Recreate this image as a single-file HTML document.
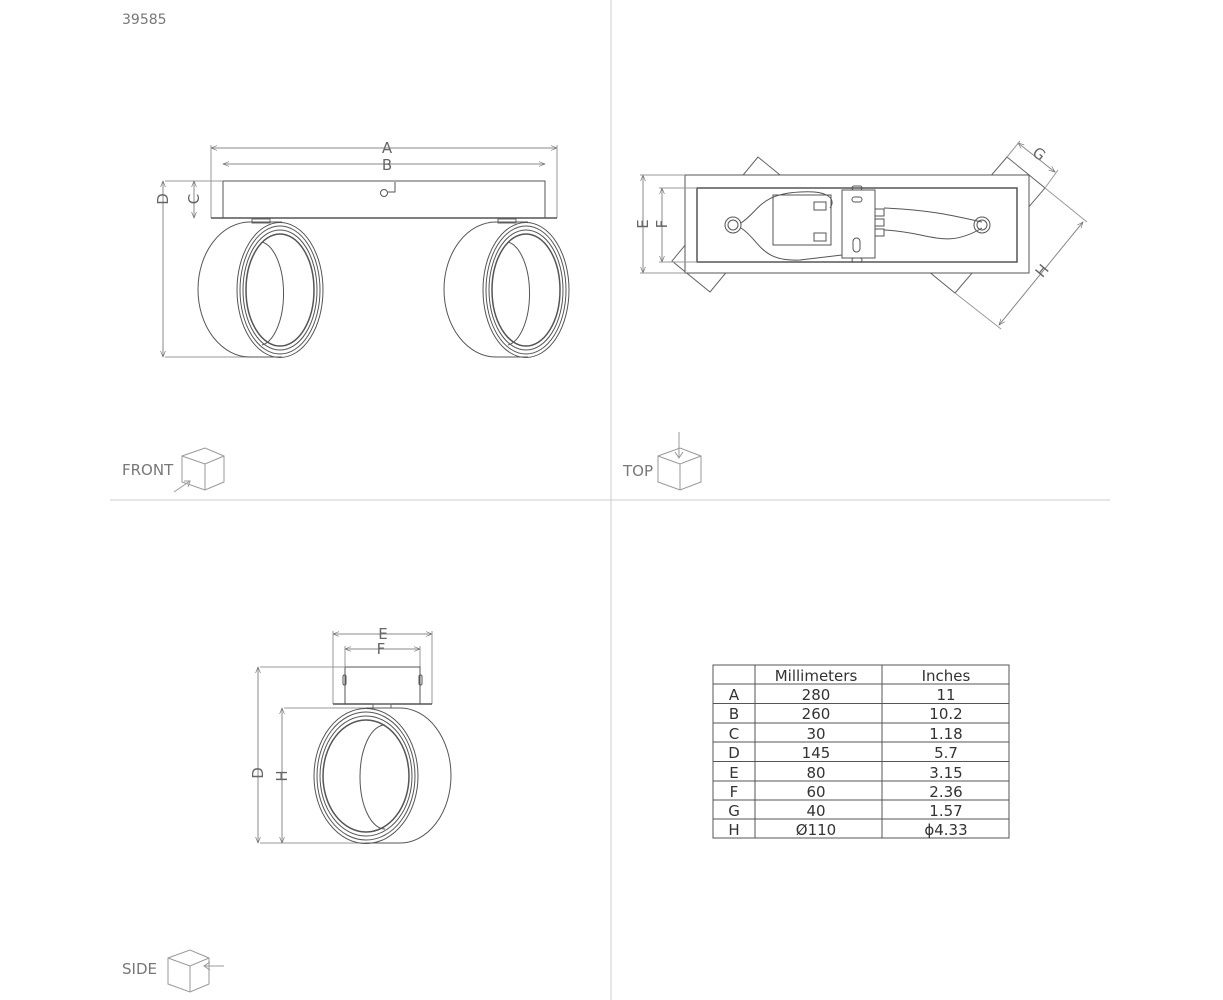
<!DOCTYPE html>
<html><head><meta charset="utf-8"><style>
html,body{margin:0;padding:0;background:#fff;}
svg{display:block;}
text{font-family:"DejaVu Sans","Liberation Sans",sans-serif;fill:#333;}
</style></head><body>
<svg width="1223" height="1000" viewBox="0 0 1223 1000" xmlns="http://www.w3.org/2000/svg">
<defs>
<marker id="ar" viewBox="0 0 10 10" refX="10" refY="5" markerWidth="8" markerHeight="6" orient="auto-start-reverse"><path d="M0,1 L10,5 L0,9" fill="none" stroke="#666" stroke-width="1"/></marker>
</defs>
<line x1="611" y1="0" x2="611" y2="1000" stroke="#ccc" stroke-width="1"/>
<line x1="110" y1="500" x2="1110" y2="500" stroke="#ccc" stroke-width="1"/>
<text x="122" y="24" font-size="14" style="fill:#777">39585</text>

<g fill="none" stroke="#555" stroke-width="1">
<line x1="211" y1="148" x2="557" y2="148" stroke="#888" marker-start="url(#ar)" marker-end="url(#ar)"/>
<line x1="223" y1="164" x2="545" y2="164" stroke="#888" marker-start="url(#ar)" marker-end="url(#ar)"/>
<line x1="211" y1="145" x2="211" y2="218" stroke="#999"/>
<line x1="557" y1="145" x2="557" y2="218" stroke="#999"/>
<rect x="223" y="181" width="322" height="37" stroke="#555"/>
<line x1="211" y1="218" x2="557" y2="218" stroke-width="1.5"/>
<line x1="165" y1="181" x2="223" y2="181" stroke="#999"/>
<line x1="165" y1="357" x2="280" y2="357" stroke="#999"/>
<line x1="163" y1="181" x2="163" y2="357" stroke="#888" marker-start="url(#ar)" marker-end="url(#ar)"/>
<line x1="194" y1="181" x2="194" y2="218" stroke="#888" marker-start="url(#ar)" marker-end="url(#ar)"/>
<circle cx="384" cy="193" r="3.5"/>
<path d="M388,192 L395,192 L395,182"/>
<g id="ring">
<rect x="252" y="219" width="18" height="4" stroke="#666"/>
<path d="M282,222 L250,222 A52,67.5 0 0 0 250,357 L282,357"/>
<ellipse cx="280" cy="290" rx="43" ry="67.5"/>
<ellipse cx="280" cy="290" rx="40" ry="64"/>
<ellipse cx="280" cy="290" rx="37" ry="60"/>
<ellipse cx="280" cy="290" rx="34" ry="56" stroke-width="1.5"/>
<path d="M262,242 A25,52 0 0 1 262,345"/>
</g>
<use href="#ring" transform="translate(246,0)"/>

<g stroke="#666">
<polygon points="758,157 796,188 710,292 672,261"/>
<polygon points="1007,157 1045,188 955,293 917,262"/>
</g>
<rect x="685" y="175" width="344" height="98" fill="#fff"/>
<rect x="697" y="188" width="320" height="74" stroke-width="1.5" fill="#fff"/>
<line x1="643" y1="175" x2="643" y2="273" stroke="#888" marker-start="url(#ar)" marker-end="url(#ar)"/>
<line x1="662" y1="188" x2="662" y2="262" stroke="#888" marker-start="url(#ar)" marker-end="url(#ar)"/>
<line x1="640" y1="175" x2="685" y2="175" stroke="#999"/>
<line x1="659" y1="188" x2="697" y2="188" stroke="#999"/>
<line x1="640" y1="273" x2="685" y2="273" stroke="#999"/>
<line x1="659" y1="262" x2="697" y2="262" stroke="#999"/>
<line x1="1018" y1="143" x2="1055" y2="172" stroke="#888" marker-start="url(#ar)" marker-end="url(#ar)"/>
<line x1="1007" y1="157" x2="1020" y2="141" stroke="#999"/>
<line x1="1045" y1="188" x2="1058" y2="170" stroke="#999"/>
<line x1="1045" y1="188" x2="1087" y2="222" stroke="#999"/>
<line x1="1083" y1="222" x2="999" y2="325" stroke="#888" marker-start="url(#ar)" marker-end="url(#ar)"/>
<line x1="955" y1="293" x2="1001" y2="329" stroke="#999"/>
<circle cx="733" cy="225" r="8"/><circle cx="733" cy="225" r="5"/>
<circle cx="982" cy="225" r="8"/><circle cx="982" cy="225" r="5"/>
<rect x="773" y="195" width="58" height="50"/>
<rect x="842" y="190" width="33" height="68" fill="#fff"/>
<rect x="852" y="197" width="10" height="5" rx="2.5"/>
<rect x="853" y="238" width="7" height="14" rx="3.5"/>
<rect x="875" y="209" width="9" height="7"/><rect x="875" y="219" width="9" height="7"/><rect x="875" y="229" width="9" height="7"/>
<rect x="814" y="202" width="12" height="8"/><rect x="814" y="233" width="12" height="8"/>
<path d="M741,223 C760,210 760,194 800,192 C830,190 836,200 830,208"/>
<path d="M741,228 C760,240 760,262 800,260 L842,255"/>
<path d="M884,208 C930,210 950,215 982,222"/>
<path d="M884,230 C930,232 945,250 982,228"/>
<rect x="852" y="186" width="10" height="4" rx="2"/>
<rect x="852" y="258" width="10" height="4" rx="2"/>

<line x1="333" y1="634" x2="432" y2="634" stroke="#888" marker-start="url(#ar)" marker-end="url(#ar)"/>
<line x1="345" y1="649" x2="420" y2="649" stroke="#888" marker-start="url(#ar)" marker-end="url(#ar)"/>
<line x1="333" y1="631" x2="333" y2="704" stroke="#999"/>
<line x1="432" y1="631" x2="432" y2="704" stroke="#999"/>
<line x1="345" y1="646" x2="345" y2="667" stroke="#999"/>
<line x1="420" y1="646" x2="420" y2="667" stroke="#999"/>
<rect x="345" y="667" width="75" height="37"/>
<line x1="333" y1="704" x2="432" y2="704" stroke-width="1.5"/>
<rect x="343" y="675" width="3" height="10" rx="1.5"/><rect x="419" y="675" width="3" height="10" rx="1.5"/>
<rect x="373" y="704" width="18" height="4" stroke="#666"/>
<line x1="260" y1="667" x2="345" y2="667" stroke="#999"/>
<line x1="284" y1="708" x2="366" y2="708" stroke="#999"/>
<line x1="260" y1="843" x2="366" y2="843" stroke="#999"/>
<line x1="258" y1="667" x2="258" y2="843" stroke="#888" marker-start="url(#ar)" marker-end="url(#ar)"/>
<line x1="282" y1="708" x2="282" y2="843" stroke="#888" marker-start="url(#ar)" marker-end="url(#ar)"/>
<path d="M366,708 L400,708 A51,67.5 0 0 1 400,843 L366,843"/>
<ellipse cx="366" cy="776" rx="52" ry="67.5"/>
<ellipse cx="366" cy="776" rx="49" ry="64"/>
<ellipse cx="366" cy="776" rx="46" ry="60"/>
<ellipse cx="366" cy="776" rx="43" ry="56" stroke-width="1.5"/>
<path d="M385,725 A25,52 0 0 0 385,829"/>

<g stroke="#999">
<path d="M182,456 L205,448 L224,456 L224,482 L205,490 L182,482 Z M182,456 L205,464 L224,456 M205,464 L205,490"/>
<path d="M174,492 L190,481 M184,481 L190,481 L188,487"/>
<path d="M658,456 L680,448 L701,456 L701,482 L680,490 L658,482 Z M658,456 L680,464 L701,456 M680,464 L680,490"/>
<path d="M679,432 L679,458 M675,452 L679,458 L683,452"/>
<path d="M168,958 L190,950 L209,958 L209,984 L190,992 L168,984 Z M168,958 L190,966 L209,958 M190,966 L190,992"/>
<path d="M204,966 L224,966 M210,962 L204,966 L210,970"/>
</g>

<rect x="713" y="665" width="296" height="173" stroke="#555"/>
<line x1="755" y1="665" x2="755" y2="838"/><line x1="882" y1="665" x2="882" y2="838"/>
<line x1="713" y1="684" x2="1009" y2="684"/><line x1="713" y1="703.5" x2="1009" y2="703.5"/>
<line x1="713" y1="723" x2="1009" y2="723"/><line x1="713" y1="742" x2="1009" y2="742"/>
<line x1="713" y1="761.5" x2="1009" y2="761.5"/><line x1="713" y1="781" x2="1009" y2="781"/>
<line x1="713" y1="800" x2="1009" y2="800"/><line x1="713" y1="819" x2="1009" y2="819"/>
</g>

<g font-size="15" text-anchor="middle">
<text x="387" y="153" style="fill:#666">A</text>
<text x="387" y="170" style="fill:#666">B</text>
<text transform="translate(168,199) rotate(-90)" style="fill:#666">D</text>
<text transform="translate(199,199) rotate(-90)" style="fill:#666">C</text>
<text transform="translate(648,224) rotate(-90)" style="fill:#666">E</text>
<text transform="translate(667,224) rotate(-90)" style="fill:#666">F</text>
<text transform="translate(1036,158) rotate(38)" style="fill:#666">G</text>
<text transform="translate(1046,274) rotate(-50)" style="fill:#666">H</text>
<text x="383" y="639" style="fill:#666">E</text>
<text x="381" y="654" style="fill:#666">F</text>
<text transform="translate(263,773) rotate(-90)" style="fill:#666">D</text>
<text transform="translate(287,776) rotate(-90)" style="fill:#666">H</text>
</g>
<g font-size="15">
<text x="122" y="475" style="fill:#777">FRONT</text>
<text x="623" y="476" style="fill:#777">TOP</text>
<text x="122" y="974" style="fill:#777">SIDE</text>
</g>
<g font-size="15" text-anchor="middle">
<text x="816" y="681">Millimeters</text><text x="946" y="681">Inches</text>
<text x="734" y="700">A</text><text x="816" y="700">280</text><text x="946" y="700">11</text>
<text x="734" y="719">B</text><text x="816" y="719">260</text><text x="946" y="719">10.2</text>
<text x="734" y="739">C</text><text x="816" y="739">30</text><text x="946" y="739">1.18</text>
<text x="734" y="758">D</text><text x="816" y="758">145</text><text x="946" y="758">5.7</text>
<text x="734" y="778">E</text><text x="816" y="778">80</text><text x="946" y="778">3.15</text>
<text x="734" y="797">F</text><text x="816" y="797">60</text><text x="946" y="797">2.36</text>
<text x="734" y="816">G</text><text x="816" y="816">40</text><text x="946" y="816">1.57</text>
<text x="734" y="835">H</text><text x="816" y="835">Ø110</text><text x="946" y="835">ϕ4.33</text>
</g>
</svg>
</body></html>
